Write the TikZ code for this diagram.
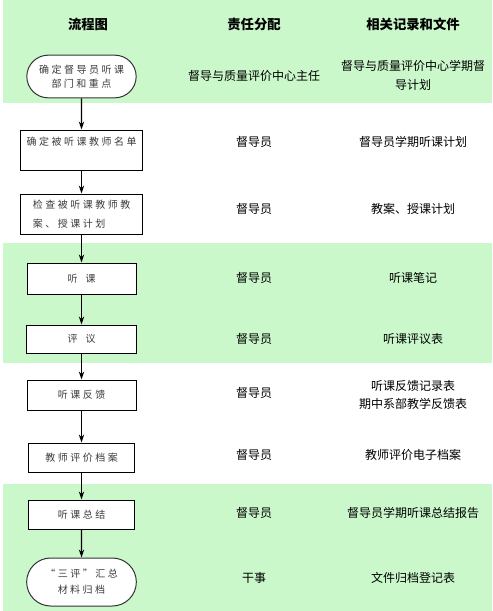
\documentclass[tikz,border=0pt]{standalone}
\usepackage{fontspec}
\setmainfont{Noto Sans CJK SC}
\newfontfamily\boxfont[LetterSpace=25]{Noto Sans CJK SC}
\usetikzlibrary{shapes.misc,arrows.meta,positioning}
\definecolor{bandgreen}{RGB}{202,248,202}
\definecolor{boxtext}{RGB}{60,60,60}
\tikzset{
  flowbox/.style={draw=black, line width=0.75pt, fill=white, text=boxtext,
    font=\boxfont\fontsize{7.5}{10}\selectfont, align=center, inner sep=2pt},
  endbox/.style={flowbox, rounded rectangle, draw=black!80},
  duty/.style={font=\fontsize{9}{14}\selectfont, align=center},
  head/.style={font=\bfseries\fontsize{10}{12}\selectfont},
  flow/.style={draw, line width=0.8pt, -{Stealth[length=6pt,width=4pt]}},
}

\begin{document}
\begin{tikzpicture}[x=0.75pt, y=-0.75pt]
  \useasboundingbox (0,0) rectangle (493,611);
  % shaded bands
  \fill[bandgreen] (3,0) rectangle (492,103);
  \fill[bandgreen] (3,243) rectangle (492,363);
  \fill[bandgreen] (3,484) rectangle (492,611);

  \node[head] (h1) at (88,24) {流程图};
  \node[head] (h2) at (254,24) {责任分配};
  \node[head] (h3) at (413,24) {相关记录和文件};

  % flow chart
  \node[endbox, minimum width=86pt, minimum height=32pt] (s1) at (81.5,76.5) {确定督导员听课\\部门和重点};
  \node[flowbox, minimum width=91.5pt, minimum height=30pt, align=left] (s2) at (81.5,150) {确定被听课教师名单\\ \strut};
  \node[flowbox, minimum width=91.5pt, minimum height=30pt, align=left,
    font=\boxfont\fontsize{7.5}{14}\selectfont] (s3) at (81.5,214) {检查被听课教师教\\案、授课计划};
  \node[flowbox, minimum width=81.75pt, minimum height=23.25pt] (s4) at (81.5,278.5) {听\hspace{6pt}课};
  \node[flowbox, minimum width=82.5pt, minimum height=21pt] (s5) at (81.5,339) {评\hspace{6pt}议};
  \node[flowbox, minimum width=81.75pt, minimum height=22.5pt] (s6) at (81.5,395) {听课反馈};
  \node[flowbox, minimum width=79.5pt, minimum height=21.75pt] (s7) at (81.5,457.5) {教师评价档案};
  \node[flowbox, minimum width=79.5pt, minimum height=21.75pt] (s8) at (81.5,514.5) {听课总结};
  \node[endbox, minimum width=86.25pt, minimum height=36pt,
    font=\boxfont\fontsize{7.5}{12}\selectfont] (s9) at (81.5,582) {“三评”汇总\\材料归档};

  \foreach \a/\b in {s1/s2, s2/s3, s3/s4, s4/s5, s5/s6, s6/s7, s7/s8, s8/s9}
    \draw[flow] (\a) -- (\b);

  % who is responsible
  \node[duty] (d1) at (254,76) {督导与质量评价中心主任};
  \node[duty] (d2) at (254,142) {督导员};
  \node[duty] (d3) at (254,209) {督导员};
  \node[duty] (d4) at (254,278) {督导员};
  \node[duty] (d5) at (254,339) {督导员};
  \node[duty] (d6) at (254,393) {督导员};
  \node[duty] (d7) at (254,455) {督导员};
  \node[duty] (d8) at (254,513) {督导员};
  \node[duty] (d9) at (254,578) {干事};

  % records
  \node[duty] (r1) at (413,75.5) {督导与质量评价中心学期督\\导计划};
  \node[duty] (r2) at (413,142) {督导员学期听课计划};
  \node[duty] (r3) at (413,209) {教案、授课计划};
  \node[duty] (r4) at (413,278) {听课笔记};
  \node[duty] (r5) at (413,339) {听课评议表};
  \node[duty] (r6) at (413,395) {听课反馈记录表\\期中系部教学反馈表};
  \node[duty] (r7) at (413,455) {教师评价电子档案};
  \node[duty] (r8) at (413,513) {督导员学期听课总结报告};
  \node[duty] (r9) at (413,578) {文件归档登记表};
\end{tikzpicture}
\end{document}
